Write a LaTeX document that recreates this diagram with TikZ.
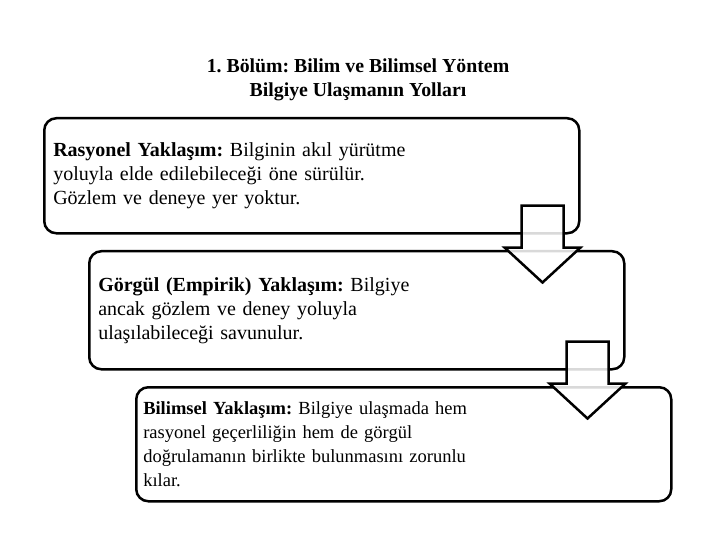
\documentclass[tikz,border=0pt]{standalone}
\usepackage{fontspec}
\setmainfont{Liberation Serif}

\begin{document}
\frenchspacing
\begin{tikzpicture}[x=1bp, y=-1bp,
    box/.style={draw, line width=2.5bp, rounded corners=12bp, anchor=north west,
      minimum width=535bp, text width=517bp, align=left, inner xsep=8bp,
      font=\fontsize{20bp}{24bp}\selectfont},
    blockarrow/.style={draw, line width=2.5bp, fill=white, fill opacity=0.85,
      line join=miter}]

  \useasboundingbox (0,0) rectangle (720,540);

  % title
  \node[align=center, font=\bfseries\fontsize{19.8bp}{24bp}\selectfont] (title) at (358,80)
    {1. Bölüm: Bilim ve Bilimsel Yöntem\\ Bilgiye Ulaşmanın Yolları};

  % the three approaches
  \node[box, minimum height=115bp] (rasyonel) at (43,117)
    {\textbf{Rasyonel Yaklaşım:} Bilginin akıl yürütme\\
     yoluyla elde edilebileceği öne sürülür.\\
     Gözlem ve deneye yer yoktur.};
  \node[box, minimum height=118bp] (gorgul) at (88,250)
    {\textbf{Görgül (Empirik) Yaklaşım:} Bilgiye\\
     ancak gözlem ve deney yoluyla\\
     ulaşılabileceği savunulur.};
  \node[box, minimum height=114bp, inner xsep=6bp, text width=521bp,
      font=\fontsize{18.5bp}{24bp}\selectfont] (bilimsel) at (135,386)
    {\textbf{Bilimsel Yaklaşım:} Bilgiye ulaşmada hem\\
     rasyonel geçerliliğin hem de görgül\\
     doğrulamanın birlikte bulunmasını zorunlu\\
     kılar.};

  % block arrows between the boxes
  \foreach \b in {rasyonel, gorgul}
    \draw[blockarrow] ([xshift=-38bp, yshift=29bp]\b.south east)
      ++(-21,0) -- ++(0,42) -- ++(-17,0) -- ++(38,35) -- ++(38,-35)
      -- ++(-17,0) -- ++(0,-42) -- cycle;

\end{tikzpicture}
\end{document}
